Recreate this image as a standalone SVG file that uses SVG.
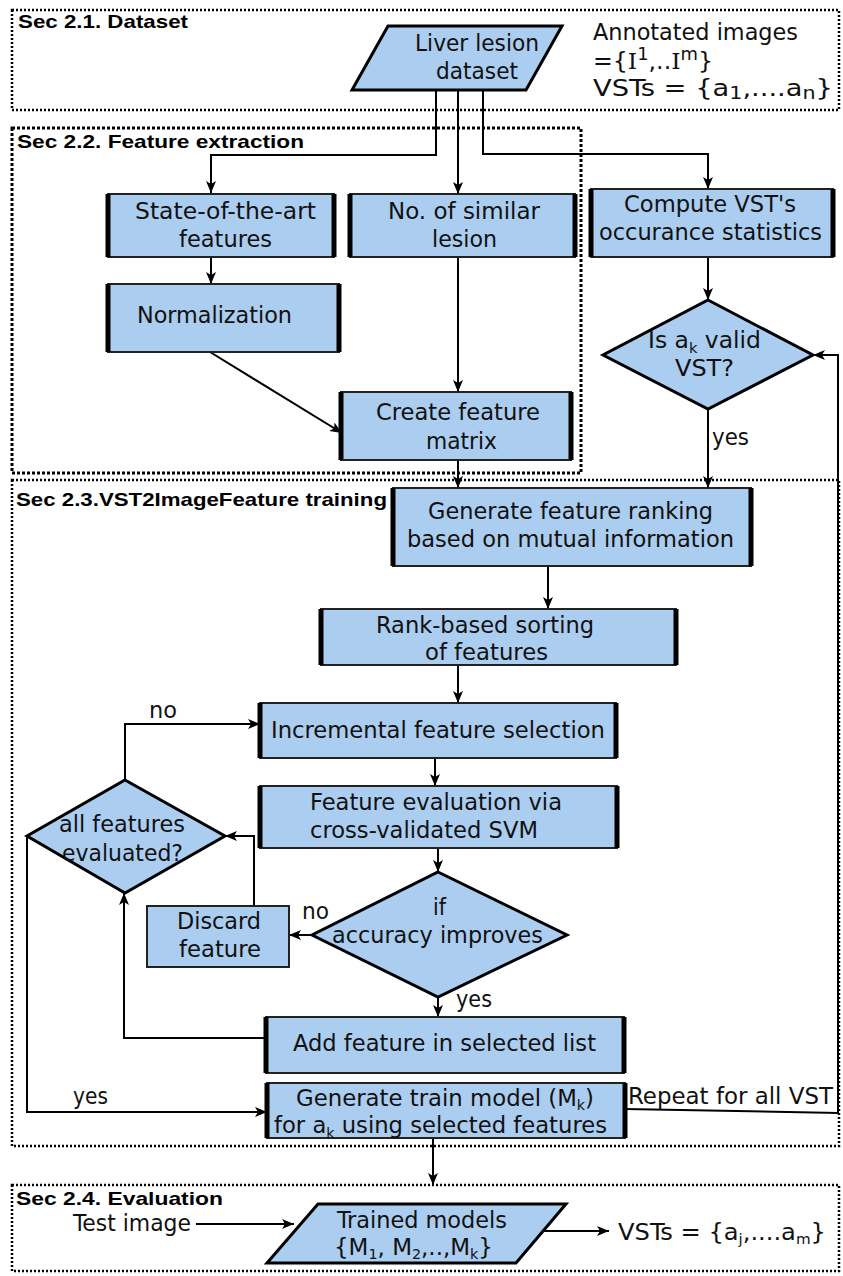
<svg xmlns="http://www.w3.org/2000/svg" width="843" height="1276" viewBox="0 0 843 1276">
<defs>
<marker id="arr" markerUnits="userSpaceOnUse" markerWidth="14" markerHeight="10" refX="12" refY="5" orient="auto">
<path d="M0,0 L12,5 L0,10 L3,5 z" fill="#000"/>
</marker>
<style>
.sec{fill:none;stroke:#000;stroke-width:2.5;stroke-dasharray:2 2}
.sec2{fill:none;stroke:#000;stroke-width:3;stroke-dasharray:3 2}
.title{font-family:"Liberation Sans Narrow","Liberation Sans",Arial,sans-serif;font-weight:bold;font-size:19px;fill:#000}
.t{font-family:"DejaVu Sans Condensed","DejaVu Sans",Verdana,sans-serif;font-stretch:condensed;font-size:22.5px;fill:#111}
.box{fill:#abcdf0;stroke:#222;stroke-width:2}
.side{stroke:#000;stroke-width:5}
.shape{fill:#abcdf0;stroke:#000;stroke-width:3;stroke-linejoin:miter}
.c{fill:none;stroke:#000;stroke-width:2}
.ca{fill:none;stroke:#000;stroke-width:2;marker-end:url(#arr)}
.sub{font-size:14px}
.sup{font-size:17px}
</style>
</defs>
<rect fill="#fff" x="0" y="0" width="843" height="1276"/>

<g id="sections">
<rect class="sec" x="12" y="10" width="827" height="100"/>
<rect class="sec2" x="12" y="128" width="569" height="345"/>
<rect class="sec" x="12" y="480" width="827" height="666"/>
<rect class="sec" x="12" y="1185" width="827" height="86"/>
<text class="title" x="18" y="28" textLength="170" lengthAdjust="spacingAndGlyphs">Sec 2.1. Dataset</text>
<text class="title" x="17" y="148" textLength="287" lengthAdjust="spacingAndGlyphs">Sec 2.2. Feature extraction</text>
<text class="title" x="16" y="506" textLength="371" lengthAdjust="spacingAndGlyphs">Sec 2.3.VST2ImageFeature training</text>
<text class="title" x="16" y="1205" textLength="207" lengthAdjust="spacingAndGlyphs">Sec 2.4. Evaluation</text>
</g>

<g id="connectors">
<polyline class="ca" points="436,89 436,155 211,155 211,193"/>
<polyline class="ca" points="458,89 458,194"/>
<polyline class="ca" points="483,89 483,154 708,154 708,189"/>
<polyline class="ca" points="708,257 708,300"/>
<polyline class="ca" points="211,257 211,284"/>
<polyline class="ca" points="210,352 342,433"/>
<polyline class="ca" points="458,257 458,392"/>
<polyline class="ca" points="458,460 458,488"/>
<polyline class="ca" points="708,409 708,488"/>
<polyline class="ca" points="548,566 548,609"/>
<polyline class="ca" points="458,665 458,703"/>
<polyline class="ca" points="435,758 435,786"/>
<polyline class="ca" points="438,848 438,872"/>
<polyline class="ca" points="312,935 289,935"/>
<polyline class="ca" points="254,906 254,836 225,836"/>
<polyline class="ca" points="125,780 125,724 260,724"/>
<polyline class="ca" points="438,997 438,1017"/>
<polyline class="ca" points="266,1038 124,1038 124,893"/>
<polyline class="ca" points="27,836 27,1112 267,1112"/>
<polyline class="ca" points="625,1109 838,1113 838,355 813,355"/>
<polyline class="ca" points="433,1138 433,1185"/>
<polyline class="ca" points="196,1224 294,1224"/>
<polyline class="ca" points="541,1231 609,1231"/>
<text class="t" x="712" y="445" textLength="37" lengthAdjust="spacingAndGlyphs">yes</text>
<text class="t" x="149" y="718" textLength="28" lengthAdjust="spacingAndGlyphs">no</text>
<text class="t" x="302" y="919" textLength="27" lengthAdjust="spacingAndGlyphs">no</text>
<text class="t" x="456" y="1007" textLength="36" lengthAdjust="spacingAndGlyphs">yes</text>
<text class="t" x="73" y="1104" textLength="35" lengthAdjust="spacingAndGlyphs">yes</text>
<text class="t" x="628" y="1104" textLength="205" lengthAdjust="spacingAndGlyphs">Repeat for all VST</text>
</g>

<g id="dataset">
<polygon class="shape" points="388,26 562,26 526,90 352,90"/>
<text class="t" x="415" y="51" textLength="124" lengthAdjust="spacingAndGlyphs">Liver lesion</text>
<text class="t" x="436" y="79" textLength="82" lengthAdjust="spacingAndGlyphs">dataset</text>
</g>

<g id="annotation">
<text class="t" x="593" y="40" textLength="205" lengthAdjust="spacingAndGlyphs">Annotated images</text>
<text class="t" x="593" y="69" textLength="120" lengthAdjust="spacingAndGlyphs">={<tspan font-family="DejaVu Serif">I</tspan><tspan class="sup" dy="-9">1</tspan><tspan dy="9">,..</tspan><tspan font-family="DejaVu Serif">I</tspan><tspan class="sup" dy="-9">m</tspan><tspan dy="9">}</tspan></text>
<text class="t" x="593" y="96" textLength="240" lengthAdjust="spacingAndGlyphs">VSTs = {a<tspan class="sup" dy="3">1</tspan><tspan dy="-3">,....a</tspan><tspan class="sup" dy="3">n</tspan><tspan dy="-3">}</tspan></text>
</g>

<g id="state">
<rect class="box" x="108" y="194" width="226" height="63"/>
<line class="side" x1="108" y1="194" x2="108" y2="257"/><line class="side" x1="334" y1="194" x2="334" y2="257"/>
<text class="t" x="135" y="219" textLength="181" lengthAdjust="spacingAndGlyphs">State-of-the-art</text>
<text class="t" x="179" y="247" textLength="93" lengthAdjust="spacingAndGlyphs">features</text>
</g>

<g id="similar">
<rect class="box" x="350" y="194" width="225" height="63"/>
<line class="side" x1="350" y1="194" x2="350" y2="257"/><line class="side" x1="575" y1="194" x2="575" y2="257"/>
<text class="t" x="388" y="219" textLength="152" lengthAdjust="spacingAndGlyphs">No. of similar</text>
<text class="t" x="432" y="247" textLength="65" lengthAdjust="spacingAndGlyphs">lesion</text>
</g>

<g id="compute">
<rect class="box" x="591" y="189" width="242" height="68"/>
<line class="side" x1="591" y1="189" x2="591" y2="257"/><line class="side" x1="833" y1="189" x2="833" y2="257"/>
<text class="t" x="624" y="212" textLength="172" lengthAdjust="spacingAndGlyphs">Compute VST's</text>
<text class="t" x="599" y="240" textLength="223" lengthAdjust="spacingAndGlyphs">occurance statistics</text>
</g>

<g id="normalization">
<rect class="box" x="108" y="284" width="231" height="68"/>
<line class="side" x1="108" y1="284" x2="108" y2="352"/><line class="side" x1="339" y1="284" x2="339" y2="352"/>
<text class="t" x="137" y="323" textLength="155" lengthAdjust="spacingAndGlyphs">Normalization</text>
</g>

<g id="valid">
<polygon class="shape" points="708,300 813,355 708,409 603,355"/>
<text class="t" x="648" y="348" textLength="113" lengthAdjust="spacingAndGlyphs">Is a<tspan class="sub" dy="5">k</tspan><tspan dy="-5"> valid</tspan></text>
<text class="t" x="675" y="376" textLength="59" lengthAdjust="spacingAndGlyphs">VST?</text>
</g>

<g id="matrix">
<rect class="box" x="341" y="392" width="230" height="68"/>
<line class="side" x1="341" y1="392" x2="341" y2="460"/><line class="side" x1="571" y1="392" x2="571" y2="460"/>
<text class="t" x="376" y="420" textLength="164" lengthAdjust="spacingAndGlyphs">Create feature</text>
<text class="t" x="426" y="449" textLength="71" lengthAdjust="spacingAndGlyphs">matrix</text>
</g>

<g id="ranking">
<rect class="box" x="393" y="488" width="358" height="78"/>
<line class="side" x1="393" y1="488" x2="393" y2="566"/><line class="side" x1="751" y1="488" x2="751" y2="566"/>
<text class="t" x="428" y="519" textLength="285" lengthAdjust="spacingAndGlyphs">Generate feature ranking</text>
<text class="t" x="407" y="547" textLength="327" lengthAdjust="spacingAndGlyphs">based on mutual information</text>
</g>

<g id="sorting">
<rect class="box" x="321" y="609" width="355" height="56"/>
<line class="side" x1="321" y1="609" x2="321" y2="665"/><line class="side" x1="676" y1="609" x2="676" y2="665"/>
<text class="t" x="376" y="633" textLength="218" lengthAdjust="spacingAndGlyphs">Rank-based sorting</text>
<text class="t" x="425" y="660" textLength="123" lengthAdjust="spacingAndGlyphs">of features</text>
</g>

<g id="incremental">
<rect class="box" x="260" y="703" width="356" height="55"/>
<line class="side" x1="260" y1="703" x2="260" y2="758"/><line class="side" x1="616" y1="703" x2="616" y2="758"/>
<text class="t" x="271" y="738" textLength="334" lengthAdjust="spacingAndGlyphs">Incremental feature selection</text>
</g>

<g id="evaluation">
<rect class="box" x="260" y="786" width="357" height="62"/>
<line class="side" x1="260" y1="786" x2="260" y2="848"/><line class="side" x1="617" y1="786" x2="617" y2="848"/>
<text class="t" x="310" y="810" textLength="252" lengthAdjust="spacingAndGlyphs">Feature evaluation via</text>
<text class="t" x="310" y="838" textLength="228" lengthAdjust="spacingAndGlyphs">cross-validated SVM</text>
</g>

<g id="allevaluated">
<polygon class="shape" points="125,780 225,836 125,893 27,836"/>
<text class="t" x="59" y="832" textLength="126" lengthAdjust="spacingAndGlyphs">all features</text>
<text class="t" x="62" y="861" textLength="121" lengthAdjust="spacingAndGlyphs">evaluated?</text>
</g>

<g id="discard">
<rect class="box" x="147" y="906" width="142" height="61"/>
<text class="t" x="177" y="929" textLength="84" lengthAdjust="spacingAndGlyphs">Discard</text>
<text class="t" x="179" y="957" textLength="82" lengthAdjust="spacingAndGlyphs">feature</text>
</g>

<g id="accuracy">
<polygon class="shape" points="438,872 567,935 438,997 312,935"/>
<text class="t" x="433" y="915" textLength="13" lengthAdjust="spacingAndGlyphs">if</text>
<text class="t" x="332" y="943" textLength="211" lengthAdjust="spacingAndGlyphs">accuracy improves</text>
</g>

<g id="addfeature">
<rect class="box" x="266" y="1017" width="358" height="56"/>
<line class="side" x1="266" y1="1017" x2="266" y2="1073"/><line class="side" x1="624" y1="1017" x2="624" y2="1073"/>
<text class="t" x="293" y="1051" textLength="303" lengthAdjust="spacingAndGlyphs">Add feature in selected list</text>
</g>

<g id="trainmodel">
<rect class="box" x="267" y="1083" width="358" height="55"/>
<line class="side" x1="267" y1="1083" x2="267" y2="1138"/><line class="side" x1="625" y1="1083" x2="625" y2="1138"/>
<text class="t" x="296" y="1106" textLength="298" lengthAdjust="spacingAndGlyphs">Generate train model (M<tspan class="sub" dy="4">k</tspan><tspan dy="-4">)</tspan></text>
<text class="t" x="274" y="1133" textLength="333" lengthAdjust="spacingAndGlyphs">for a<tspan class="sub" dy="5">k</tspan><tspan dy="-5"> using selected features</tspan></text>
</g>

<g id="testimage">
<text class="t" x="73" y="1231" textLength="118" lengthAdjust="spacingAndGlyphs">Test image</text>
</g>

<g id="trained">
<polygon class="shape" points="318,1204 566,1204 516,1263 267,1263"/>
<text class="t" x="337" y="1228" textLength="170" lengthAdjust="spacingAndGlyphs">Trained models</text>
<text class="t" x="334" y="1255" textLength="159" lengthAdjust="spacingAndGlyphs">{M<tspan class="sub" dy="4">1</tspan><tspan dy="-4">, M</tspan><tspan class="sub" dy="4">2</tspan><tspan dy="-4">,..,M</tspan><tspan class="sub" dy="4">k</tspan><tspan dy="-4">}</tspan></text>
</g>

<g id="output">
<text class="t" x="618" y="1240" textLength="208" lengthAdjust="spacingAndGlyphs">VSTs = {a<tspan class="sub" dy="4">j</tspan><tspan dy="-4">,....a</tspan><tspan class="sub" dy="4">m</tspan><tspan dy="-4">}</tspan></text>
</g>
</svg>
